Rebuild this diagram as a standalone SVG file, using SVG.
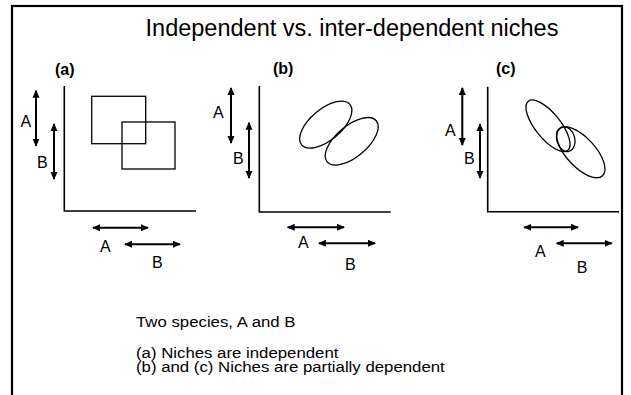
<svg xmlns="http://www.w3.org/2000/svg" width="631" height="395" viewBox="0 0 631 395">
<style>
text{font-family:"Liberation Sans",Arial,sans-serif;fill:#000}
.lbl{font-size:16px}
.pl{font-size:16px;font-weight:bold}
.cap{font-size:15px}
.axis{stroke:#000;stroke-width:1.6;fill:none}
.shape{stroke:#000;stroke-width:1.3;fill:none}
.arr{stroke:#000;stroke-width:2;fill:none;marker-start:url(#ah);marker-end:url(#ah)}
</style>
<defs>
<marker id="ah" viewBox="0 0 8 8" refX="7" refY="4" markerWidth="8" markerHeight="8" markerUnits="userSpaceOnUse" orient="auto-start-reverse">
<path d="M0,0.5 L8,4 L0,7.5 z" fill="#000"/>
</marker>
</defs>
<rect x="0" y="0" width="631" height="395" fill="#fff"/>
<rect x="12" y="6" width="610" height="400" fill="none" stroke="#000" stroke-width="2.2"/>
<text x="352" y="36" text-anchor="middle" style="font-size:23.5px">Independent vs. inter-dependent niches</text>

<g id="panel-a">
<text class="pl" x="55" y="75">(a)</text>
<path class="axis" d="M64.3,86 V211 H196"/>
<rect class="shape" x="91.7" y="96.3" width="54" height="47.4"/>
<rect class="shape" x="122" y="122" width="53" height="47"/>
<text class="lbl" x="20.5" y="126.7">A</text>
<text class="lbl" x="37" y="168">B</text>
<text class="lbl" x="100" y="252">A</text>
<text class="lbl" x="152" y="268">B</text>
</g>

<g id="panel-b">
<text class="pl" x="273" y="74">(b)</text>
<path class="axis" d="M259.3,86 V212 H390.7"/>
<ellipse class="shape" cx="325.8" cy="124.6" rx="31.5" ry="15.5" transform="rotate(-40 325.8 124.6)"/>
<ellipse class="shape" cx="351.7" cy="141.3" rx="32" ry="15.5" transform="rotate(-40 351.7 141.3)"/>
<text class="lbl" x="213" y="118">A</text>
<text class="lbl" x="233" y="164">B</text>
<text class="lbl" x="298" y="248">A</text>
<text class="lbl" x="345" y="270">B</text>
</g>

<g id="panel-c">
<text class="pl" x="496" y="74">(c)</text>
<path class="axis" d="M487.7,86.7 V211.7 H619"/>
<ellipse class="shape" cx="548" cy="125.8" rx="31.5" ry="12.6" transform="rotate(51.3 548 125.8)"/>
<ellipse class="shape" cx="580.8" cy="152.2" rx="32" ry="14.5" transform="rotate(47.3 580.8 152.2)"/>
<ellipse class="shape" cx="565.8" cy="139.2" rx="9" ry="12.5" transform="rotate(-15 565.8 139.2)"/>
<text class="lbl" x="445" y="136">A</text>
<text class="lbl" x="464" y="164">B</text>
<text class="lbl" x="535" y="256.7">A</text>
<text class="lbl" x="576.7" y="273">B</text>
</g>

<g id="connectors">
<line class="arr" x1="36" y1="90.7" x2="36" y2="145.7"/>
<line class="arr" x1="54" y1="124" x2="54" y2="179"/>
<line class="arr" x1="93" y1="227.7" x2="148" y2="227.7"/>
<line class="arr" x1="125" y1="244.3" x2="180" y2="244.3"/>
<line class="arr" x1="231" y1="88" x2="231" y2="143"/>
<line class="arr" x1="249" y1="122.7" x2="249" y2="178"/>
<line class="arr" x1="287.7" y1="227.3" x2="344" y2="227.3"/>
<line class="arr" x1="319" y1="243.3" x2="375" y2="243.3"/>
<line class="arr" x1="462.3" y1="88" x2="462.3" y2="145"/>
<line class="arr" x1="480" y1="124" x2="480" y2="178"/>
<line class="arr" x1="524.3" y1="227.3" x2="578" y2="227.3"/>
<line class="arr" x1="556.7" y1="243.3" x2="611.7" y2="243.3"/>
</g>

<g id="caption" transform="translate(136 0) scale(1.12 1)">
<text class="cap" x="0" y="327">Two species, A and B</text>
<text class="cap" x="0" y="358">(a) Niches are independent</text>
<text class="cap" x="0" y="372.5">(b) and (c) Niches are partially dependent</text>
</g>
</svg>
